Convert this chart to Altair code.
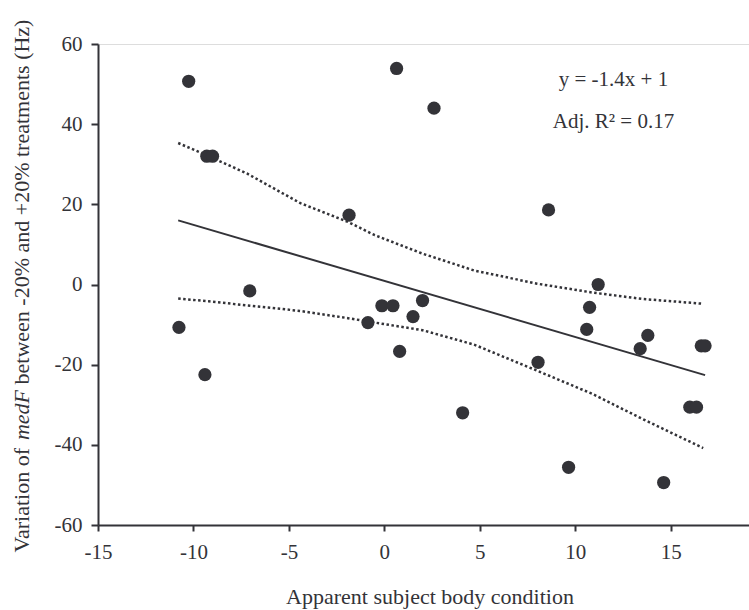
import altair as alt
import pandas as pd

# ---- data ----
pt_x = [-10.76, -10.25, -9.4, -9.3, -9.0, -7.05, -1.85, -0.86, -0.13, 0.45, 0.64,
        0.8, 1.5, 2.0, 2.6, 4.1, 8.05, 8.6, 9.65, 10.6, 10.75, 11.2, 13.4, 13.8,
        14.63, 16.0, 16.35, 16.6, 16.8]
pt_y = [-10.7, 50.7, -22.5, 32.0, 32.0, -1.6, 17.3, -9.5, -5.3, -5.3, 53.9,
        -16.7, -8.0, -4.0, 44.0, -32.0, -19.4, 18.6, -45.6, -11.2, -5.7, 0.0, -16.0, -12.7,
        -49.4, -30.6, -30.6, -15.3, -15.3]

fit_x = [-10.8, 16.8]
fit_y = [16.0, -22.6]

band_x = [-10.8, -9.2, -7.2, -4.4, -1.9, -0.5, 2.0, 4.7, 8.0, 10.9, 13.5, 16.7]
band_upper = [35.3, 32.0, 27.7, 20.3, 15.6, 12.3, 7.7, 3.5, 0.2, -2.0, -3.6, -4.8]
band_lower = [-3.5, -4.2, -5.2, -6.6, -8.4, -9.5, -11.4, -15.0, -21.5, -27.3, -33.5, -40.8]

x_ticks = [-15, -10, -5, 0, 5, 10, 15]
y_ticks = [-60, -40, -20, 0, 20, 40, 60]

eq_text = ["y = -1.4x + 1", "Adj. R\u00b2 = 0.17"]
eq_x = [12.0, 12.0]
eq_y = [51.0, 40.5]

x_title = "Apparent subject body condition"
y_title_parts = ["Variation of ", "medF", " between -20% and +20% treatments (Hz)"]

# ---- style ----
FONT = "Liberation Serif"
DARK = "#333338"
FS = 21
TFS = 22
W, H = 651, 481
PAD_L, PAD_T = 98, 44

# Times/Liberation Serif advance widths (per 1000 em) to abut the title pieces
TIMES = {' ': 250, 'V': 722, 'a': 444, 'r': 333, 'i': 278, 't': 278, 'o': 500, 'n': 500,
         'f': 333, 'b': 500, 'e': 444, 'w': 722, '-': 333, '2': 500, '0': 500, '%': 833,
         'd': 500, '+': 564, 'm': 778, 's': 389, '(': 333, ')': 333, 'H': 722, 'z': 444}
ITALIC = {'m': 722, 'e': 444, 'd': 500, 'F': 611}


def width(s, table):
    return sum(table.get(c, 500) for c in s) * TFS / 1000.0


w1 = width(y_title_parts[0], TIMES)
w2 = width(y_title_parts[1], ITALIC)
w3 = width(y_title_parts[2], TIMES)
sp = width(" ", TIMES)
total = w1 + w2 + w3
center = 286 - PAD_T
bottom = center + total / 2
title_pos = [bottom, bottom - w1, bottom - w1 - w2 - sp]
title_style = ["normal", "italic", "normal"]

pts = pd.DataFrame({"x": pt_x, "y": pt_y})
fit = pd.DataFrame({"x": fit_x, "y": fit_y})
up = pd.DataFrame({"x": band_x, "y": band_upper})
lo = pd.DataFrame({"x": band_x, "y": band_lower})
eq = pd.DataFrame({"x": eq_x, "y": eq_y, "t": eq_text})


def X():
    return alt.X("x:Q", scale=alt.Scale(domain=[-15, 19.1], nice=False, zero=False),
                 axis=alt.Axis(values=x_ticks, title=None, tickSize=6, labelPadding=10,
                               labelFlush=False, labelExpr="'' + datum.value",
                               labelFont=FONT, labelFontSize=FS, labelColor=DARK))


def Y():
    return alt.Y("y:Q", scale=alt.Scale(domain=[-60, 60], nice=False, zero=False),
                 axis=alt.Axis(values=y_ticks, title=None, tickSize=7, labelPadding=9,
                               labelExpr="'' + datum.value",
                               labelFont=FONT, labelFontSize=FS, labelColor=DARK))


points = alt.Chart(pts).mark_circle(size=175, color=DARK, opacity=1).encode(x=X(), y=Y())
fit_line = alt.Chart(fit).mark_line(color=DARK, strokeWidth=2).encode(x=X(), y=Y())
upper = alt.Chart(up).mark_line(color=DARK, strokeWidth=2.5, strokeDash=[2.5, 2.5]).encode(x=X(), y=Y())
lower = alt.Chart(lo).mark_line(color=DARK, strokeWidth=2.5, strokeDash=[2.5, 2.5]).encode(x=X(), y=Y())

eq_marks = alt.Chart(eq).mark_text(font=FONT, fontSize=FS, color=DARK, align="center",
                                   baseline="middle").encode(x=X(), y=Y(), text="t:N")

xt = alt.Chart(pd.DataFrame({"t": [x_title]})).mark_text(
    font=FONT, fontSize=TFS, color=DARK, align="center", baseline="alphabetic"
).encode(x=alt.value(332), y=alt.value(604 - PAD_T), text="t:N")

y_title_layers = []
for part, pos, style in zip(y_title_parts, title_pos, title_style):
    y_title_layers.append(
        alt.Chart(pd.DataFrame({"t": [part.strip()]})).mark_text(
            font=FONT, fontSize=TFS, color=DARK, align="left", baseline="alphabetic",
            angle=270, fontStyle=style
        ).encode(x=alt.value(28.5 - PAD_L), y=alt.value(pos), text="t:N")
    )

chart = alt.layer(upper, lower, fit_line, points, eq_marks, xt, *y_title_layers).properties(
    width=W, height=H,
    autosize=alt.AutoSizeParams(type="none"),
    padding={"left": PAD_L, "top": PAD_T, "right": 0, "bottom": 610 - PAD_T - H},
).configure_view(stroke=None).configure(background="white").configure_axis(
    grid=False, domainColor=DARK, domainWidth=2, tickColor=DARK, tickWidth=2,
    labelFont=FONT, labelFontSize=FS, labelColor=DARK
)

chart.save("out.html", embed_options={"renderer": "svg", "actions": False})
